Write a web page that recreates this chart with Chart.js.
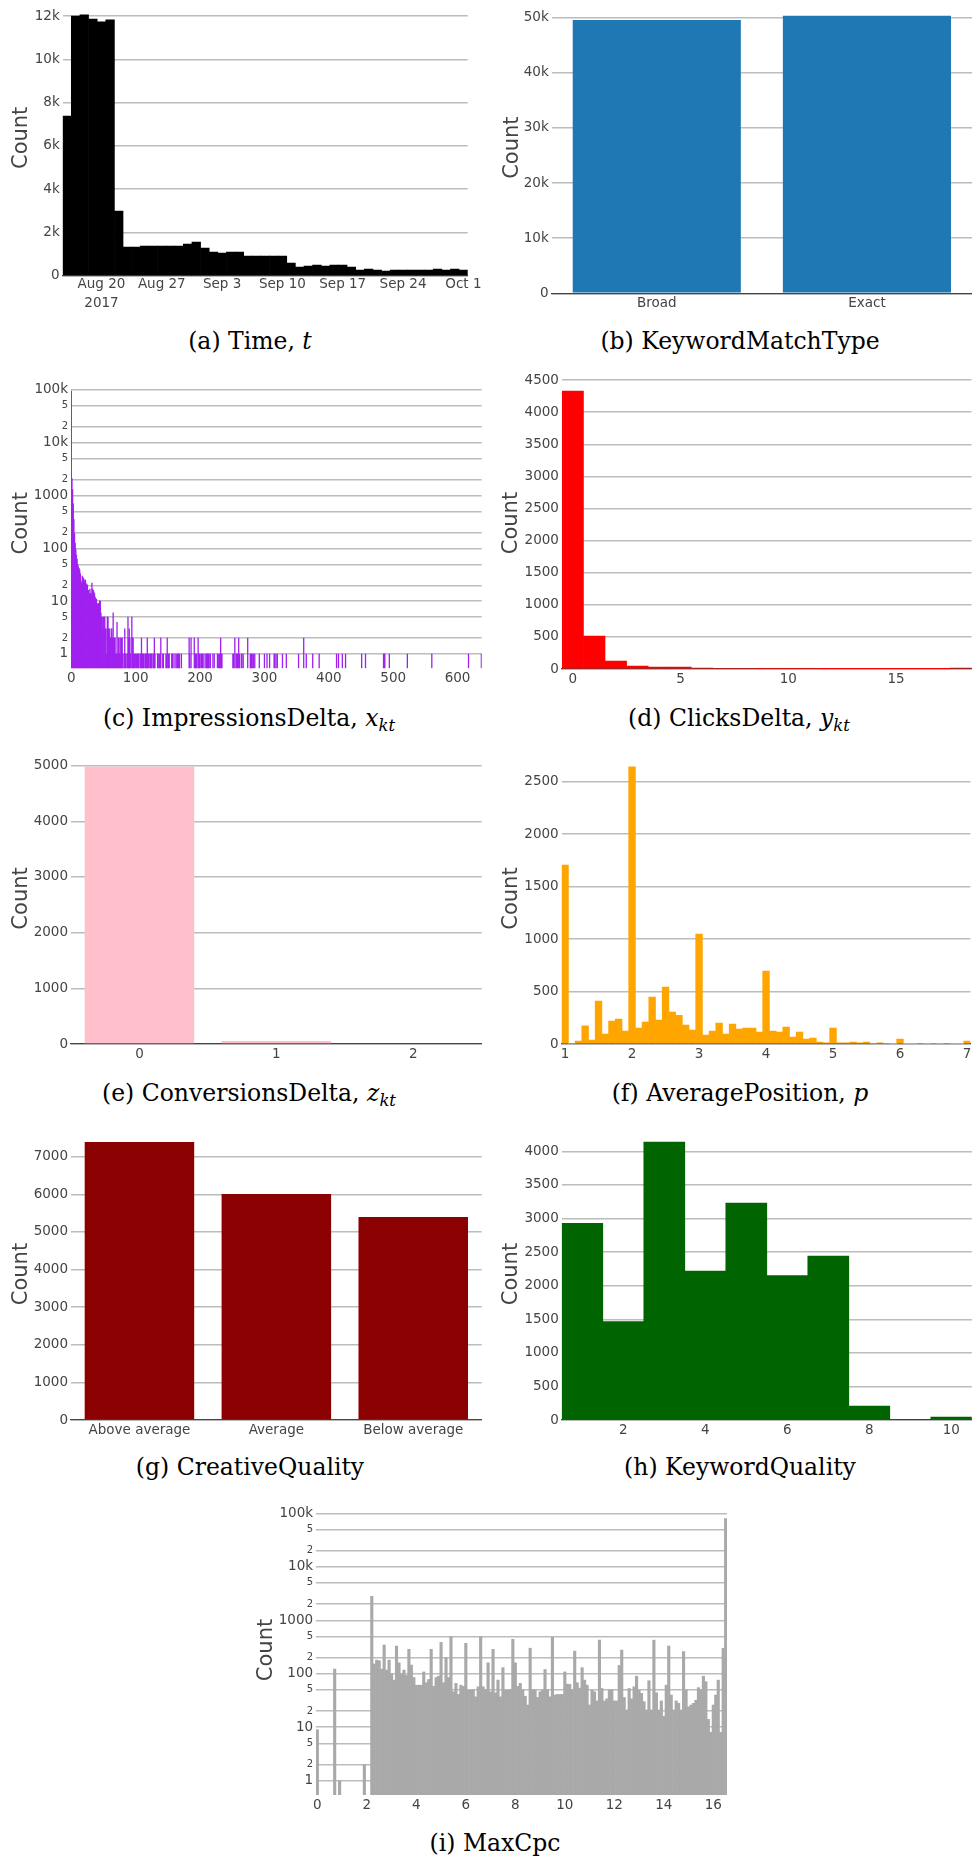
<!DOCTYPE html>
<html><head><meta charset="utf-8">
<script src="https://cdn.jsdelivr.net/npm/chart.js@4.4.1/dist/chart.umd.min.js"></script>
<style>
html,body{margin:0;padding:0;background:#fff;}
body{width:972px;height:1859px;position:relative;overflow:hidden;}
canvas{position:absolute;}
.cap{position:absolute;font-family:'DejaVu Serif',serif;font-size:23.5px;line-height:23.5px;white-space:nowrap;color:#000;transform:translateX(-50%);}
.cap sub{font-size:70%;vertical-align:-0.3em;line-height:0;}
</style></head><body>
<div class="cap" style="left:250px;top:330px">(a) Time, <i>t</i></div>
<div class="cap" style="left:740px;top:330px">(b) KeywordMatchType</div>
<div class="cap" style="left:249px;top:706.6px">(c) ImpressionsDelta, <i>x</i><sub><i>kt</i></sub></div>
<div class="cap" style="left:739px;top:706.6px">(d) ClicksDelta, <i>y</i><sub><i>kt</i></sub></div>
<div class="cap" style="left:249px;top:1081.6px">(e) ConversionsDelta, <i>z</i><sub><i>kt</i></sub></div>
<div class="cap" style="left:740px;top:1081.6px">(f) AveragePosition, <i>p</i></div>
<div class="cap" style="left:250px;top:1456.1px">(g) CreativeQuality</div>
<div class="cap" style="left:740px;top:1456.1px">(h) KeywordQuality</div>
<div class="cap" style="left:495px;top:1831.6px">(i) MaxCpc</div>
<script>
// ---------------- DATA ----------------
// (a) Time: daily counts from Aug 16 to Oct 1, 2017
const timeCounts = [7380, 12000, 12050, 11860, 11730, 11820, 2990, 1325, 1325, 1370, 1370, 1370, 1370, 1370, 1460, 1550, 1280, 1095, 1050, 1095, 1095, 910, 910, 910, 910, 910, 585, 400, 447, 493, 447, 493, 493, 400, 262, 308, 262, 216, 262, 262, 262, 262, 262, 308, 262, 308, 262];
const timeTickDays = [4, 11, 18, 25, 32, 39, 46];
const timeTickLabels = [['Aug 20', '2017'], 'Aug 27', 'Sep 3', 'Sep 10', 'Sep 17', 'Sep 24', 'Oct 1'];
const timeYTicks = [0, 2000, 4000, 6000, 8000, 10000, 12000];
const timeYLabels = ['0', '2k', '4k', '6k', '8k', '10k', '12k'];

// (b) KeywordMatchType
const matchTypes = ['Broad', 'Exact'];
const matchCounts = [49570, 50350];
const matchYTicks = [0, 10000, 20000, 30000, 40000, 50000];
const matchYLabels = ['0', '10k', '20k', '30k', '40k', '50k'];

// (c) ImpressionsDelta: counts for 0,1,2,...,72 then sparse tail
const impHead = [95000, 2100, 1300, 700, 350, 190, 125, 95, 75, 62, 50, 45, 42, 39, 33, 24, 22, 30, 28, 27, 23, 25, 25, 21, 21, 20, 16, 16, 14, 17, 14, 14, 22, 17, 16, 15, 14, 12, 11, 11, 8, 9, 9, 9, 10, 10, 6, 5, 5, 3, 5, 5, 5, 3, 3, 1, 5, 5, 3, 3, 2, 2, 3, 3, 2, 6, 2, 2, 2, 1, 1, 4, 1];
const impTailX = [73, 74, 75, 76, 77, 78, 79, 80, 82, 83, 84, 85, 87, 88, 89, 90, 91, 92, 94, 95, 96, 97, 98, 100, 101, 103, 104, 105, 107, 108, 109, 110, 111, 112, 113, 115, 116, 117, 118, 119, 120, 122, 123, 124, 125, 127, 128, 129, 130, 134, 135, 137, 138, 139, 142, 143, 147, 148, 149, 151, 152, 156, 157, 158, 161, 163, 165, 166, 167, 168, 171, 183, 184, 186, 191, 192, 193, 194, 195, 197, 198, 199, 200, 202, 204, 206, 209, 210, 211, 212, 213, 214, 216, 220, 222, 227, 229, 230, 232, 233, 234, 251, 252, 254, 256, 257, 258, 260, 261, 264, 265, 267, 274, 278, 279, 280, 281, 283, 285, 292, 300, 304, 308, 315, 316, 318, 320, 328, 334, 353, 361, 365, 375, 385, 412, 415, 421, 426, 451, 457, 485, 486, 487, 494, 522, 560, 617, 637];
const impTailY = [2, 2, 1, 2, 1, 2, 2, 1, 1, 3, 1, 1, 1, 5, 2, 3, 2, 1, 5, 2, 2, 1, 1, 1, 1, 1, 1, 1, 1, 1, 2, 1, 1, 1, 1, 1, 1, 1, 2, 1, 1, 1, 1, 1, 1, 1, 1, 2, 1, 1, 1, 1, 1, 2, 1, 1, 1, 1, 2, 1, 1, 1, 1, 1, 1, 1, 1, 1, 1, 1, 1, 2, 1, 2, 2, 1, 1, 1, 1, 2, 1, 1, 1, 1, 1, 1, 1, 1, 1, 1, 1, 1, 1, 1, 1, 1, 1, 1, 2, 1, 1, 1, 1, 2, 1, 1, 1, 2, 1, 1, 1, 1, 2, 1, 1, 1, 1, 1, 1, 1, 1, 1, 1, 1, 1, 1, 1, 1, 1, 1, 2, 1, 1, 1, 1, 1, 1, 1, 1, 1, 1, 1, 1, 1, 1, 1, 1, 1];
const impXTicks = [0, 100, 200, 300, 400, 500, 600];
const logTicks = [1, 2, 5, 10, 20, 50, 100, 200, 500, 1000, 2000, 5000, 10000, 20000, 50000, 100000];
const logLabels = ['1', '2', '5', '10', '2', '5', '100', '2', '5', '1000', '2', '5', '10k', '2', '5', '100k'];
const logMajor = [1, 10, 100, 1000, 10000, 100000];

// (d) ClicksDelta: counts for 0..18
const clicksCounts = [4330, 514, 125, 47, 31, 30, 14, 12, 11, 10, 9, 8, 4, 4, 7, 6, 6, 5, 14];
const clicksXTicks = [0, 5, 10, 15];
const clicksYTicks = [0, 500, 1000, 1500, 2000, 2500, 3000, 3500, 4000, 4500];

// (e) ConversionsDelta
const convCats = ['0', '1', '2'];
const convCounts = [4980, 54, 12];
const convYTicks = [0, 1000, 2000, 3000, 4000, 5000];

// (f) AveragePosition: bins of width 0.1 centred on 1.0 .. 7.0
const posBinStart = 1.0, posBinSize = 0.1;
const posCounts = [1706, 6, 29, 172, 38, 410, 95, 219, 238, 124, 2640, 152, 210, 448, 229, 543, 305, 273, 181, 133, 1048, 86, 124, 200, 95, 191, 143, 152, 152, 114, 696, 124, 114, 162, 67, 114, 48, 57, 19, 10, 152, 10, 10, 19, 10, 19, 6, 10, 6, 3, 48, 3, 3, 6, 3, 6, 3, 6, 3, 3, 29];
const posXTicks = [1, 2, 3, 4, 5, 6, 7];
const posYTicks = [0, 500, 1000, 1500, 2000, 2500];

// (g) CreativeQuality
const creativeCats = ['Above average', 'Average', 'Below average'];
const creativeCounts = [7390, 6008, 5396];
const creativeYTicks = [0, 1000, 2000, 3000, 4000, 5000, 6000, 7000];

// (h) KeywordQuality: counts for 1..10
const kwqCounts = [2928, 1464, 4139, 2218, 3231, 2149, 2442, 208, 10, 45];
const kwqXTicks = [2, 4, 6, 8, 10];
const kwqYTicks = [0, 500, 1000, 1500, 2000, 2500, 3000, 3500, 4000];

// (i) MaxCpc: bins of width 0.1
const cpcLowX = [0, 0.7, 0.9, 1.9];
const cpcLowY = [9, 122, 1, 2];
const cpcBinStart = 2.2, cpcBinSize = 0.1;
const cpcMain = [2800, 152, 180, 175, 122, 345, 117, 180, 100, 76,
  330, 160, 100, 117,
  93, 286, 145, 85, 61, 61, 61, 108, 68, 78,
  286, 58, 85, 90, 385, 68, 200,
  85, 495, 46, 66, 41, 61, 58, 370, 49, 49, 50, 37, 57, 495, 57, 50, 160,
  46, 286, 44, 76, 37, 130, 49, 49, 50, 440, 160, 58, 66, 50, 38, 26, 300,
  50, 49, 36, 46, 49, 120, 50, 37, 478, 40, 41, 41, 41, 108, 64, 63,
  50, 265, 68, 54, 130, 76, 61, 26, 49, 46, 31, 425, 53, 31, 34, 50,
  50, 31, 31, 143, 277, 36, 21, 53, 34, 57, 90, 49, 43, 30, 21,
  74, 21, 425, 44, 21, 31, 16, 61, 330, 40, 21, 31, 28, 21, 260, 50, 24, 26, 28, 32, 55, 50, 90, 71, 14, 8, 26, 40, 76, 8, 300,
  80000];
const cpcXTicks = [0, 2, 4, 6, 8, 10, 12, 14, 16];

// ---------------- CHARTS ----------------
Chart.defaults.font.family = "'DejaVu Sans', sans-serif";
Chart.defaults.font.size = 13.5;
Chart.defaults.color = '#444';
const GRID = 'rgb(188,188,188)';
const FS = 13.5;

function makeChart(o) {
  const [cx, cy, cw, ch] = o.cv;
  const [l, t, r, b] = o.area;
  const cvs = document.createElement('canvas');
  cvs.width = cw; cvs.height = ch;
  cvs.style.left = cx + 'px'; cvs.style.top = cy + 'px';
  cvs.style.width = cw + 'px'; cvs.style.height = ch + 'px';
  document.body.appendChild(cvs);
  const xs = {
    type: o.xType,
    offset: o.xType === 'category',
    grid: {display: false, drawTicks: false},
    border: {display: !!o.zeroLine, color: '#444', width: 1.3},
    ticks: Object.assign({padding: 2, maxRotation: 0, minRotation: 0, autoSkip: false, color: '#444', font: {size: FS}}, o.xTickOpts || {}),
    afterFit: s => { s.height = cy + ch - b; s.paddingLeft = 0; s.paddingRight = 0; s.paddingTop = 0; s.paddingBottom = 0; }
  };
  if (o.xMin !== undefined) { xs.min = o.xMin; xs.max = o.xMax; }
  if (o.xTicks) {
    xs.afterBuildTicks = s => { s.ticks = o.xTicks.map(v => ({value: v})); };
    xs.ticks.callback = (v, i) => o.xLabels[i];
  }
  const ys = {
    type: o.yType || 'linear',
    min: o.yMin, max: o.yMax,
    grid: {color: GRID, lineWidth: 1.5, drawTicks: false},
    border: {display: false},
    ticks: {padding: 3, color: '#444', font: o.yFont || {size: FS}, callback: (v, i) => o.yLabels[i]},
    afterBuildTicks: s => { s.ticks = o.yTicks.map(v => ({value: v})); },
    title: {display: true, text: 'Count', color: '#444', font: {size: 21}, padding: {top: (o.titleX - cx) - 12.6, bottom: 0}},
    afterFit: s => { s.width = l - cx; s.paddingLeft = 0; s.paddingRight = 0; s.paddingTop = 0; s.paddingBottom = 0; }
  };
  new Chart(cvs, {
    type: 'bar',
    data: {labels: o.labels, datasets: [{data: o.data, backgroundColor: o.color, borderWidth: 0,
      barPercentage: 1, categoryPercentage: o.xType === 'category' ? 0.8 : 1}]},
    options: {
      responsive: false, animation: false, devicePixelRatio: 1,
      layout: {padding: {left: 0, top: t - cy, right: cx + cw - r, bottom: 0}},
      plugins: {legend: {display: false}, tooltip: {enabled: false}},
      scales: {x: xs, y: ys}
    }
  });
}

const logFont = (ctx) => ({size: (ctx && ctx.tick && logMajor.includes(ctx.tick.value)) ? FS : 10});
const str = a => a.map(v => String(v));

// (a)
makeChart({cv: [0, 0, 486, 325], area: [62.7, 0, 467.7, 275.7], titleX: 21.7,
  xType: 'linear', xMin: -0.5, xMax: 46.5, xTicks: timeTickDays, xLabels: timeTickLabels,
  xTickOpts: {padding: 0, font: {size: FS, lineHeight: '18.3px'}},
  data: timeCounts.map((v, i) => ({x: i, y: v})), color: '#000000', zeroLine: true,
  yMin: 0, yMax: 12740, yTicks: timeYTicks, yLabels: timeYLabels});

// (b)
makeChart({cv: [486, 0, 486, 325], area: [551.7, 2, 972, 293.3], titleX: 512.3,
  xType: 'category', labels: matchTypes, data: matchCounts, color: '#1f77b4', zeroLine: true,
  yMin: 0, yMax: 52850, yTicks: matchYTicks, yLabels: matchYLabels});

// (c)
const impData = impHead.map((v, i) => ({x: i, y: v})).concat(impTailX.map((x, i) => ({x: x, y: impTailY[i]})));
makeChart({cv: [0, 360, 486, 340], area: [71, 378.3, 481.7, 668.3], titleX: 21.7,
  xType: 'linear', xMin: -0.5, xMax: 637.5, xTicks: impXTicks, xLabels: str(impXTicks),
  data: impData, color: '#a020f0', zeroLine: false,
  yType: 'logarithmic', yMin: 0.536, yMax: 166500, yTicks: logTicks, yLabels: logLabels, yFont: logFont});

// (d)
makeChart({cv: [486, 360, 486, 340], area: [561.9, 377.1, 971.5, 669], titleX: 512,
  xType: 'linear', xMin: -0.5, xMax: 18.5, xTicks: clicksXTicks, xLabels: str(clicksXTicks),
  data: clicksCounts.map((v, i) => ({x: i, y: v})), color: '#ff0000', zeroLine: true,
  yMin: 0, yMax: 4546, yTicks: clicksYTicks, yLabels: str(clicksYTicks)});

// (e)
makeChart({cv: [0, 740, 486, 335], area: [71, 752.9, 481.7, 1044], titleX: 21.7,
  xType: 'category', labels: convCats, data: convCounts, color: '#ffc0cb', zeroLine: true,
  yMin: 0, yMax: 5229, yTicks: convYTicks, yLabels: str(convYTicks)});

// (f)
makeChart({cv: [486, 740, 486, 335], area: [561.7, 753.1, 970.4, 1044], titleX: 512,
  xType: 'linear', xMin: 0.95, xMax: 7.05, xTicks: posXTicks, xLabels: str(posXTicks),
  data: posCounts.map((v, i) => ({x: posBinStart + i * posBinSize, y: v})), color: '#ffa500', zeroLine: true,
  yMin: 0, yMax: 2772, yTicks: posYTicks, yLabels: str(posYTicks)});

// (g)
makeChart({cv: [0, 1110, 486, 340], area: [71, 1128.1, 481.7, 1420], titleX: 21.7,
  xType: 'category', labels: creativeCats, data: creativeCounts, color: '#8b0000', zeroLine: true,
  yMin: 0, yMax: 7760, yTicks: creativeYTicks, yLabels: str(creativeYTicks)});

// (h)
makeChart({cv: [486, 1110, 486, 340], area: [561.8, 1128.1, 971.8, 1420], titleX: 512,
  xType: 'linear', xMin: 0.5, xMax: 10.5, xTicks: kwqXTicks, xLabels: str(kwqXTicks),
  data: kwqCounts.map((v, i) => ({x: i + 1, y: v})), color: '#006400', zeroLine: true,
  yMin: 0, yMax: 4346, yTicks: kwqYTicks, yLabels: str(kwqYTicks)});

// (i)
const cpcData = cpcLowX.map((x, i) => ({x: x, y: cpcLowY[i]})).concat(cpcMain.map((v, i) => ({x: cpcBinStart + i * cpcBinSize, y: v})));
makeChart({cv: [230, 1480, 510, 345], area: [316.1, 1505, 726.9, 1795], titleX: 266.3,
  xType: 'linear', xMin: -0.05, xMax: 16.55, xTicks: cpcXTicks, xLabels: str(cpcXTicks),
  data: cpcData, color: '#a9a9a9', zeroLine: false,
  yType: 'logarithmic', yMin: 0.54, yMax: 143000, yTicks: logTicks, yLabels: logLabels, yFont: logFont});
</script>
</body></html>
